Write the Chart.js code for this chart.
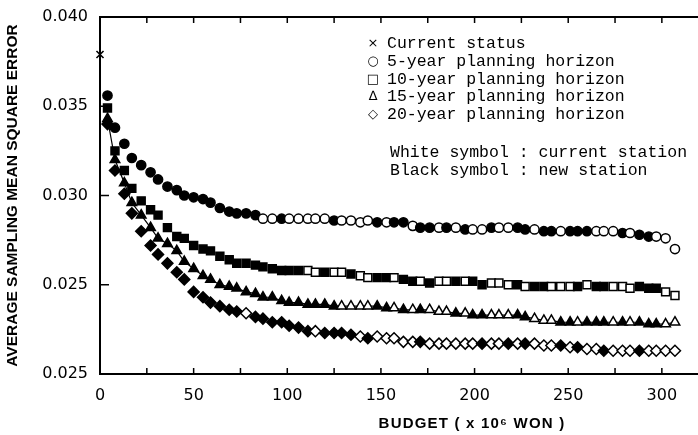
<!DOCTYPE html>
<html><head><meta charset="utf-8">
<script src="https://cdn.jsdelivr.net/npm/chart.js@4/dist/chart.umd.min.js"></script>
<style>html,body{margin:0;padding:0;background:#fff;}#wrap{width:698px;height:435px;}</style>
</head><body><div id="wrap"><canvas id="c" width="698" height="435"></canvas></div>
<script>
// ---- data ----
const budget = [4,8,13,17,22, 27,31,36,41,45, 50,55,59,64,69, 73,78,83,87,92, 97,101,106,111,115, 120,125,129,134,139, 143,148,153,157,162, 167,171,176,181,185, 190,195,199,204,209, 213,218,223,227,232, 237,241,246,251,255, 260,265,269,274,279, 283,288,293,297,302, 307];
const mse5 = [0.0356,0.0338,0.0329,0.0321,0.0317, 0.0313,0.0309,0.0305,0.0303,0.0300, 0.0299,0.0298,0.0296,0.0293,0.0291, 0.0290,0.0290,0.0289,0.0287,0.0287, 0.0287,0.0287,0.0287,0.0287,0.0287, 0.0287,0.0286,0.0286,0.0286,0.0285, 0.0286,0.0285,0.0285,0.0285,0.0285, 0.0283,0.0282,0.0282,0.0282,0.0282, 0.0282,0.0281,0.0281,0.0281,0.0282, 0.0282,0.0282,0.0282,0.0281,0.0281, 0.0280,0.0280,0.0280,0.0280,0.0280, 0.0280,0.0280,0.0280,0.0280,0.0279, 0.0279,0.0278,0.0277,0.0277,0.0276, 0.0270];
const mse10 = [0.0349,0.0325,0.0314,0.0304,0.0297, 0.0292,0.0289,0.0282,0.0277,0.0276, 0.0272,0.0270,0.0269,0.0266,0.0264, 0.0262,0.0262,0.0261,0.0260,0.0259, 0.0258,0.0258,0.0258,0.0258,0.0257, 0.0257,0.0257,0.0257,0.0256,0.0255, 0.0254,0.0254,0.0254,0.0254,0.0253, 0.0252,0.0252,0.0251,0.0252,0.0252, 0.0252,0.0252,0.0252,0.0250,0.0251, 0.0251,0.0250,0.0250,0.0249,0.0249, 0.0249,0.0249,0.0249,0.0249,0.0249, 0.0250,0.0249,0.0249,0.0249,0.0249, 0.0248,0.0249,0.0248,0.0248,0.0246, 0.0244];
const mse15 = [0.0343,0.0320,0.0307,0.0296,0.0289, 0.0282,0.0276,0.0273,0.0269,0.0263, 0.0259,0.0255,0.0253,0.0250,0.0249, 0.0248,0.0246,0.0245,0.0243,0.0243, 0.0241,0.0240,0.0240,0.0239,0.0239, 0.0239,0.0238,0.0238,0.0238,0.0238, 0.0238,0.0238,0.0237,0.0237,0.0236, 0.0236,0.0236,0.0236,0.0235,0.0235, 0.0234,0.0234,0.0233,0.0233,0.0233, 0.0233,0.0233,0.0233,0.0232,0.0231, 0.0230,0.0230,0.0229,0.0229,0.0229, 0.0229,0.0229,0.0229,0.0229,0.0229, 0.0229,0.0229,0.0228,0.0228,0.0228, 0.0229];
const mse20 = [0.0340,0.0314,0.0301,0.0290,0.0280, 0.0272,0.0267,0.0262,0.0257,0.0253, 0.0246,0.0243,0.0240,0.0238,0.0236, 0.0235,0.0234,0.0232,0.0231,0.0229, 0.0229,0.0227,0.0226,0.0224,0.0224, 0.0223,0.0223,0.0223,0.0222,0.0221, 0.0220,0.0221,0.0220,0.0220,0.0218, 0.0218,0.0218,0.0217,0.0217,0.0217, 0.0217,0.0217,0.0217,0.0217,0.0217, 0.0217,0.0217,0.0217,0.0217,0.0217, 0.0216,0.0216,0.0216,0.0215,0.0215, 0.0214,0.0214,0.0213,0.0213,0.0213, 0.0213,0.0213,0.0213,0.0213,0.0213, 0.0213];
// 1 = black symbol (new station), 0 = white symbol (current station)
const new5 = [1,1,1,1,1, 1,1,1,1,1, 1,1,1,1,1, 1,1,1,0,0, 1,0,0,0,0, 0,1,0,0,0, 0,1,0,1,1, 0,1,1,0,1, 0,1,0,0,1, 0,0,1,1,0, 1,1,0,1,1, 1,0,0,0,1, 0,1,1,0,0, 0];
const new10 = [1,1,1,1,1, 1,1,1,1,1, 1,1,1,1,1, 1,1,1,1,1, 1,1,1,0,0, 1,0,0,1,0, 0,1,1,0,1, 1,0,1,0,0, 1,0,1,1,0, 0,0,1,0,1, 1,0,0,0,1, 0,1,1,0,0, 0,1,1,1,0, 0];
const new15 = [1,1,1,1,1, 1,1,1,1,1, 1,1,1,1,1, 1,1,1,1,1, 1,1,1,1,1, 1,1,0,0,0, 0,1,1,0,1, 0,1,0,0,0, 1,0,1,1,0, 0,0,1,1,0, 0,0,1,1,0, 1,1,1,0,1, 0,1,1,1,0, 0];
const new20 = [1,1,1,1,1, 1,1,1,1,1, 1,1,1,1,1, 1,0,1,1,1, 1,1,1,1,0, 1,1,1,1,0, 1,0,0,0,0, 0,1,0,0,0, 0,0,0,1,0, 0,1,0,1,0, 0,0,1,0,1, 0,0,1,0,0, 0,1,0,0,0, 0];
const currentBudget = [0];
const currentMse = [0.0379];

const xTicks = [0,50,100,150,200,250,300];
const xTickLabels = ['0','50','100','150','200','250','300'];
const xMinorTicks = [0,25,50,75,100,125,150,175,200,225,250,275,300];
const yTicks = [0.020,0.025,0.030,0.035,0.040];
const yTickLabels = ['0.025','0.025','0.030','0.035','0.040'];

const xTitle = 'BUDGET ( x 10\u2076 WON )';
const yTitle = 'AVERAGE SAMPLING MEAN SQUARE ERROR';
const legendSymbols = ['\u00d7','\u25cb','\u25a1','\u2206','\u25c7'];
const legendTexts = ['Current status','5-year planning horizon','10-year planning horizon','15-year planning horizon','20-year planning horizon'];
const noteTexts = ['White symbol : current station','Black symbol : new station'];

// ---- chart ----
function pts(ys){ return budget.map((b,i)=>({x:b,y:ys[i]})); }
function fills(f){ return f.map(v=> v ? '#000' : '#fff'); }
function series(label, ys, flags, style, r, line){
  return { label, data: pts(ys), pointStyle: style, pointRadius: r, pointHoverRadius: r,
    pointBackgroundColor: fills(flags), pointBorderColor: '#000', pointBorderWidth: 1.5,
    showLine: !!line, borderColor: '#000', borderWidth: line ? 1.2 : 0, tension: 0, clip: false };
}

const decor = {
  id: 'decor',
  afterDraw(chart){
    const {ctx, chartArea:a, scales:{x, y}} = chart;
    ctx.save();
    ctx.strokeStyle = '#000'; ctx.lineWidth = 1.5;
    ctx.beginPath();
    xMinorTicks.forEach(v=>{
      const px = x.getPixelForValue(v);
      ctx.moveTo(px, a.bottom); ctx.lineTo(px, a.bottom - 6);
      ctx.moveTo(px, a.top); ctx.lineTo(px, a.top + 6);
    });
    yTicks.forEach(v=>{
      const py = y.getPixelForValue(v);
      ctx.moveTo(a.left, py); ctx.lineTo(a.left + 9, py);
    });
    ctx.stroke();
    ctx.fillStyle = '#000';
    ctx.textBaseline = 'middle';
    legendSymbols.forEach((s,i)=>{
      ctx.textAlign = 'center';
      ctx.font = '13px "DejaVu Sans"';
      ctx.fillText(s, 373, 44 + i*17.6);
      ctx.textAlign = 'left';
      ctx.font = '16.5px "Liberation Mono"';
      ctx.fillText(legendTexts[i], 387, 44 + i*17.6);
    });
    noteTexts.forEach((t,i)=>{
      ctx.textAlign = 'left';
      ctx.font = '16.5px "Liberation Mono"';
      ctx.fillText(t, 390, 153 + i*18);
    });
    ctx.textAlign = 'center';
    ctx.font = 'bold 15px "Liberation Sans"';
    try { ctx.letterSpacing = '1.2px'; } catch(e) {}
    ctx.fillText(xTitle, 472, 424);
    ctx.restore();
  }
};

const border = {display:true, color:'#000', width:2};
new Chart(document.getElementById('c'), {
  type: 'scatter',
  data: { datasets: [
    { label:'Current status', data: currentBudget.map((b,i)=>({x:b,y:currentMse[i]})), pointStyle:'crossRot', pointRadius:5, pointBorderColor:'#000', pointBorderWidth:1.6, pointBackgroundColor:'#000', showLine:false, clip:false },
    series('20-year planning horizon', mse20, new20, 'rectRot', 5.5, false),
    series('15-year planning horizon', mse15, new15, 'triangle', 5.5, true),
    series('10-year planning horizon', mse10, new10, 'rect', 5.6, false),
    series('5-year planning horizon', mse5, new5, 'circle', 4.6, false)
  ]},
  options: {
    responsive: false, animation: false, devicePixelRatio: 1,
    layout: { autoPadding: false, padding: { top: 17, right: 0, left: 0, bottom: 0 } },
    plugins: { legend: { display: false }, tooltip: { enabled: false } },
    scales: {
      x: { type:'linear', position:'bottom', min:0, max:319.3,
        grid:{display:false, drawTicks:false}, border,
        ticks:{ stepSize:50, includeBounds:false, autoSkip:false, maxRotation:0, padding:12, color:'#000',
          font:{family:'DejaVu Sans', size:16},
          callback:(v)=>{ const i = xTicks.indexOf(v); return i>=0 ? xTickLabels[i] : ''; } },
        afterFit(s){ s.height = 61; s.paddingRight = 0; s.paddingLeft = 0; } },
      xTop: { type:'linear', position:'top', min:0, max:319.3,
        grid:{display:false, drawTicks:false}, border, ticks:{display:false},
        afterFit(s){ s.height = 0; s.paddingRight = 0; s.paddingLeft = 0; } },
      y: { type:'linear', min:0.020, max:0.040,
        grid:{display:false, drawTicks:false}, border,
        ticks:{ stepSize:0.005, padding:12, color:'#000', font:{family:'DejaVu Sans', size:16},
          callback:(v)=>{ const i = yTicks.findIndex(t=>Math.abs(t-v)<1e-9); return i>=0 ? yTickLabels[i] : ''; } },
        title:{ display:true, text:yTitle, color:'#000', padding:{top:3,bottom:0},
          font:{family:'"Liberation Sans"', size:15.5, weight:'bold'} },
        afterFit(s){ s.width = 100; s.paddingTop = 0; s.paddingBottom = 0; } }
    }
  },
  plugins: [decor]
});
</script></body></html>
